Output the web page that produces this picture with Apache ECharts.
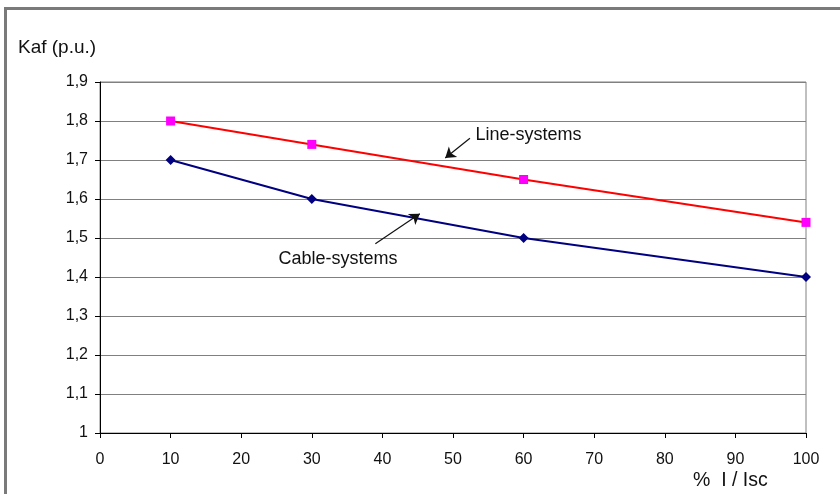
<!DOCTYPE html>
<html><head><meta charset="utf-8">
<script src="https://cdn.jsdelivr.net/npm/echarts@6/dist/echarts.min.js"></script>
<style>html,body{margin:0;padding:0;background:#fff}#c{width:840px;height:494px}</style>
</head><body><div id="c"></div>
<script>
const xValues = [10, 30, 60, 100];
const lineSystems = [1.80, 1.74, 1.65, 1.54];
const cableSystems = [1.70, 1.60, 1.50, 1.40];
const xTicks = [0, 10, 20, 30, 40, 50, 60, 70, 80, 90, 100];
const yTicks = [1, 1.1, 1.2, 1.3, 1.4, 1.5, 1.6, 1.7, 1.8, 1.9];
// annotation arrows (data coordinates)
const lineArrow = [[52.4, 1.756], [48.9, 1.705]];
const cableArrow = [[39.0, 1.485], [45.3, 1.562]];
const lineLabelPos = [53.1, 1.764];
const cableLabelPos = [33.7, 1.446];

const font = 'Liberation Sans, Arial, sans-serif';
const chart = echarts.init(document.getElementById('c'), null, {renderer: 'canvas'});
chart.setOption({
  animation: false,
  backgroundColor: '#fff',
  graphic: [
    {type: 'rect', shape: {x: 5.5, y: 8.5, width: 900, height: 600},
     style: {fill: 'none', stroke: '#7a7a7a', lineWidth: 3}, z: 100},
    {type: 'text', left: 18, top: 38,
     style: {text: 'Kaf (p.u.)', font: '19px ' + font, fill: '#111'}},
    {type: 'text', left: 693, top: 471,
     style: {text: '%  I / Isc', font: '19.5px ' + font, fill: '#111'}}
  ],
  grid: {left: 100, right: 34, top: 82, bottom: 61, show: true, borderColor: '#808080', borderWidth: 1},
  xAxis: {
    type: 'value', min: 0, max: 100, interval: 10,
    axisLine: {show: true, lineStyle: {color: '#000', width: 1}},
    axisTick: {show: true, length: 5, lineStyle: {color: '#000'}},
    axisLabel: {fontFamily: font, fontSize: 16, color: '#111', margin: 19},
    splitLine: {show: false}
  },
  yAxis: {
    type: 'value', min: 1, max: 1.9, interval: 0.1,
    axisLine: {show: true, lineStyle: {color: '#000', width: 1}},
    axisTick: {show: true, length: 5, lineStyle: {color: '#000'}},
    axisLabel: {fontFamily: font, fontSize: 16, color: '#111', margin: 12,
      formatter: v => (Math.round(v * 10) / 10).toString().replace('.', ',')},
    splitLine: {show: true, lineStyle: {color: '#808080', width: 1}}
  },
  series: [
    {
      name: 'Line-systems', type: 'line',
      data: xValues.map((x, i) => [x, lineSystems[i]]),
      symbol: 'rect', symbolSize: 9, showAllSymbol: true,
      lineStyle: {color: '#ff0000', width: 2},
      itemStyle: {color: '#ff00ff'},
      markLine: {
        silent: true, symbol: ['none', 'arrow'], symbolSize: 10,
        lineStyle: {color: '#111', width: 1.2, type: 'solid'}, label: {show: false},
        data: [[{coord: lineArrow[0]}, {coord: lineArrow[1]}], [{coord: cableArrow[0]}, {coord: cableArrow[1]}]]
      },
      markPoint: {
        silent: true, symbol: 'circle', symbolSize: 1, itemStyle: {color: 'rgba(0,0,0,0)'},
        label: {show: true, fontFamily: font, fontSize: 18, color: '#111', formatter: p => p.name},
        data: [
          {name: 'Line-systems', coord: lineLabelPos, label: {position: 'right', distance: 0}},
          {name: 'Cable-systems', coord: cableLabelPos, label: {position: 'inside'}}
        ]
      }
    },
    {
      name: 'Cable-systems', type: 'line',
      data: xValues.map((x, i) => [x, cableSystems[i]]),
      symbol: 'diamond', symbolSize: 10, showAllSymbol: true,
      lineStyle: {color: '#000080', width: 2},
      itemStyle: {color: '#000080'}
    }
  ]
});
</script></body></html>
